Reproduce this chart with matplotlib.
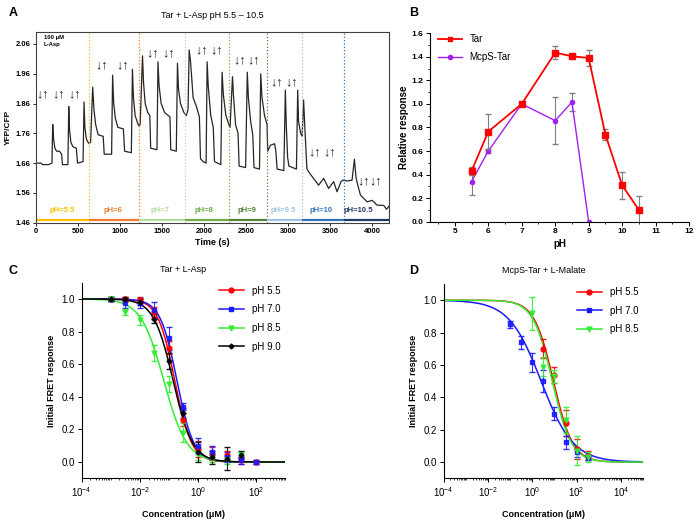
import matplotlib
matplotlib.use('agg')
import matplotlib.pyplot as plt
from matplotlib.lines import Line2D
from matplotlib.ticker import MultipleLocator, LogLocator, NullFormatter, FormatStrFormatter
import numpy as np

plt.rcParams['font.family'] = ['Liberation Sans', 'DejaVu Sans']
plt.rcParams['mathtext.default'] = 'regular'

# ---- panel A: raw FRET trace (time in s, YFP/CFP ratio)
TRACE_T = [0, 60, 80, 150, 190, 199, 210, 225, 245, 280, 305, 315, 380, 390, 400, 415, 440, 480,
           495, 560, 572, 582, 600, 630,
           650, 675, 690, 710, 740, 800, 812, 900, 912, 925, 945, 975, 1040, 1055, 1135, 1148,
           1160, 1180, 1215,
           1225, 1240, 1268, 1280, 1300, 1330, 1355, 1365, 1440, 1452, 1465, 1490, 1530, 1595,
           1604, 1670, 1684, 1696, 1720, 1760,
           1790, 1810, 1823, 1840, 1870, 1910, 1945, 1958, 1990, 2025, 2037, 2050, 2080, 2110,
           2125, 2200, 2215, 2230, 2260, 2295,
           2310, 2339, 2350, 2375, 2405, 2418, 2495, 2515, 2528, 2555, 2580, 2595, 2660, 2675,
           2690, 2720, 2750,
           2758, 2790, 2840, 2855, 2870, 2950, 2968, 2980, 2995, 3010, 3100, 3115, 3125, 3150, 3168,
           3185, 3200, 3225, 3260, 3300, 3364, 3424, 3483, 3543, 3583, 3631, 3654,
           3700, 3762, 3790, 3810, 3830, 3862, 3941, 4001, 4060, 4140, 4172, 4200]
TRACE_Y = [1.66, 1.66, 1.655, 1.655, 1.66, 1.79, 1.74, 1.71, 1.70, 1.70, 1.69, 1.655, 1.655, 1.85, 1.77, 1.73, 1.715, 1.71,
           1.66, 1.665, 1.865, 1.78, 1.74, 1.725,
           1.73, 1.915, 1.84, 1.79, 1.755, 1.75, 1.69, 1.69, 1.955, 1.86, 1.81, 1.78, 1.775, 1.70, 1.695, 1.975,
           1.88, 1.82, 1.79,
           1.785, 1.79, 2.02, 1.93, 1.86, 1.83, 1.82, 1.71, 1.705, 2.0, 1.92, 1.86, 1.83, 1.815,
           1.705, 1.70, 1.995, 1.91, 1.86, 1.83,
           1.82, 1.84, 2.04, 2.0, 1.88, 1.85, 1.815, 1.675, 1.665, 1.66, 2.0, 1.92, 1.82, 1.78,
           1.665, 1.655, 1.965, 1.89, 1.82, 1.79,
           1.78, 1.95, 1.89, 1.79, 1.76, 1.65, 1.645, 1.965, 1.88, 1.80, 1.755, 1.645, 1.64, 1.96,
           1.88, 1.82, 1.79,
           1.70, 1.72, 1.725, 1.70, 1.64, 1.635, 1.905, 1.78, 1.68, 1.65, 1.64, 1.905, 1.80, 1.76, 1.75,
           1.872, 1.78, 1.64, 1.625, 1.61, 1.586, 1.609, 1.575, 1.598, 1.564, 1.598, 1.603,
           1.60, 1.603, 1.673, 1.61, 1.586, 1.553, 1.530, 1.535, 1.519, 1.518, 1.505, 1.515]

PH_EDGES = [0, 635, 1224, 1776, 2297, 2753, 3170, 3663, 4200]
PH_NAMES = ['pH=5.5', 'pH=6', 'pH=7', 'pH=8', 'pH=9', 'pH=9.5', 'pH=10', 'pH=10.5']
PH_COLORS = ['#FFC000', '#ED7D31', '#B4DC9C', '#70AD47', '#548235', '#9DC3E6', '#2E75B6', '#203864']
PH_LABEL_T = [306, 921, 1477, 2002, 2510, 2939, 3391, 3837]
ARROW_T = [79, 266, 465, 782, 1032, 1386, 1577, 1966, 2145, 2419, 2589, 2859, 3038, 3312, 3495, 3900, 4039]
ARROW_Y = [1.89, 1.89, 1.89, 1.99, 1.99, 2.03, 2.03, 2.04, 2.04, 2.005, 2.005, 1.93, 1.93, 1.695, 1.695, 1.60, 1.60]

# ---- panel B: relative response vs pH
B_PH_TAR = [5.5, 6, 7, 8, 8.5, 9, 9.5, 10, 10.5]
B_TAR = [0.43, 0.765, 1.0, 1.435, 1.405, 1.39, 0.74, 0.31, 0.10]
B_TAR_ERR = [0.035, 0.15, 0.0, 0.057, 0.01, 0.07, 0.047, 0.116, 0.115]
B_PH_MCPS = [5.5, 6, 7, 8, 8.5, 9]
B_MCPS = [0.34, 0.60, 1.0, 0.858, 1.015, 0.0]
B_MCPS_ERR = [0.11, 0.02, 0.0, 0.2, 0.075, 0.0]

# ---- panel C: Tar + L-Asp dose response (conc in uM)
C_CONC = [0.001, 0.003, 0.01, 0.03, 0.1, 0.3, 1, 3, 10, 30, 100]
C_LABELS = ['pH 5.5', 'pH 7.0', 'pH 8.5', 'pH 9.0']
C_COLORS = ['#FF0000', '#1A1AFF', '#33EE33', '#000000']
C_MARKERS = ['o', 's', 'v', 'D']
C_VALS = [[1.0, 1.0, 0.995, 0.92, 0.70, 0.26, 0.08, 0.05, 0.04, 0.01, 0.0],
          [1.0, 0.975, 0.975, 0.93, 0.76, 0.34, 0.10, 0.06, 0.03, 0.01, 0.0],
          [1.0, 0.92, 0.87, 0.67, 0.48, 0.18, 0.05, 0.02, 0.01, 0.04],
          [1.0, 1.0, 0.98, 0.88, 0.62, 0.30, 0.06, 0.03, 0.02, 0.045]]
C_ERRS = [[0.01, 0.01, 0.02, 0.03, 0.04, 0.04, 0.05, 0.04, 0.03, 0.02, 0.01],
          [0.01, 0.03, 0.03, 0.05, 0.07, 0.02, 0.05, 0.04, 0.03, 0.02, 0.01],
          [0.01, 0.02, 0.03, 0.05, 0.05, 0.06, 0.04, 0.02, 0.02, 0.02],
          [0.01, 0.01, 0.02, 0.03, 0.05, 0.03, 0.06, 0.04, 0.07, 0.02]]
C_IC50 = [0.16, 0.19, 0.067, 0.14]
C_HILL = [1.5, 1.5, 1.1, 1.3]

# ---- panel D: McpS-Tar + L-Malate dose response
D_LABELS = ['pH 5.5', 'pH 7.0', 'pH 8.5']
D_COLORS = ['#FF0000', '#1A1AFF', '#33EE33']
D_MARKERS = ['o', 's', 'v']
D_CONC = [[3.16, 10, 31.6, 100, 316],
          [0.1, 0.316, 1, 3.16, 10, 31.6, 100, 316],
          [1, 3.16, 10, 31.6, 100, 316]]
D_VALS = [[0.70, 0.537, 0.24, 0.08, 0.04],
          [0.85, 0.74, 0.617, 0.50, 0.30, 0.123, 0.06, 0.033],
          [0.918, 0.59, 0.53, 0.26, 0.07, 0.03]]
D_ERRS = [[0.06, 0.05, 0.08, 0.06, 0.03],
          [0.02, 0.04, 0.06, 0.07, 0.04, 0.04, 0.03, 0.02],
          [0.10, 0.06, 0.04, 0.08, 0.09, 0.03]]
D_IC50 = [9.0, 2.5, 8.0]
D_HILL = [1.0, 0.6, 1.0]


def hill(x, ic50, h):
    return 1.0 / (1.0 + (x / ic50) ** h)


fig = plt.figure(figsize=(6.96, 5.2), dpi=100)

# ================= A
axA = fig.add_axes([0.0517, 0.5717, 0.507, 0.3667])
axA.plot(TRACE_T, TRACE_Y, color='#262626', lw=0.9)
for i in range(len(PH_NAMES)):
    t0, t1 = PH_EDGES[i], PH_EDGES[i + 1]
    c = PH_COLORS[i]
    axA.plot([t0, t1], [1.468, 1.468], color=c, lw=1.6, solid_capstyle='butt')
    if i < len(PH_NAMES) - 1:
        axA.axvline(t1, color=c, lw=0.9, ls=':')
    axA.text(PH_LABEL_T[i], 1.50, PH_NAMES[i], color=c, fontsize=5.5, fontweight='bold',
             ha='center', va='center')
# addition / removal arrows
for t, y in zip(ARROW_T, ARROW_Y):
    axA.text(t, y, '↓↑', fontsize=9, ha='center', va='center', color='#222222')
axA.text(95, 2.07, '100 μM\nL-Asp', fontsize=4.2, fontweight='bold', va='center', ha='left',
         linespacing=1.5)
axA.set_xlim(0, 4200)
axA.set_ylim(1.46, 2.10)
axA.set_yticks(np.arange(1.46, 2.07, 0.1))
axA.yaxis.set_major_formatter(FormatStrFormatter('%.2f'))
axA.set_xticks(np.arange(0, 4001, 500))
axA.tick_params(labelsize=5.5, length=2, width=0.6, pad=2)
for lab in axA.get_xticklabels() + axA.get_yticklabels():
    lab.set_fontweight('bold')
for s in axA.spines.values():
    s.set_color('#404040')
    s.set_linewidth(0.8)
axA.set_xlabel('Time (s)', fontsize=6.5, fontweight='bold', labelpad=2)
axA.set_ylabel('YFP/CFP', fontsize=6, fontweight='bold', labelpad=3)
axA.set_title('Tar + L-Asp pH 5.5 \u2013 10.5', fontsize=6.5, pad=10)

# ================= B
axB = fig.add_axes([0.6174, 0.5737, 0.3726, 0.3623])
axB.errorbar(B_PH_TAR, B_TAR, yerr=B_TAR_ERR, color='#FF0000', marker='s', ms=4, lw=1.3,
             ecolor='#808080', elinewidth=0.8, capsize=2, zorder=3)
axB.errorbar(B_PH_MCPS, B_MCPS, yerr=B_MCPS_ERR, color='#A020F0', marker='o', ms=3, lw=1.0,
             ecolor='#808080', elinewidth=0.8, capsize=2, zorder=2)
axB.set_xlim(4.25, 12)
axB.set_ylim(0, 1.6)
axB.set_xticks(range(5, 13))
axB.set_yticks(np.arange(0, 1.61, 0.2))
axB.yaxis.set_major_formatter(FormatStrFormatter('%.1f'))
axB.yaxis.set_minor_locator(MultipleLocator(0.1))
axB.xaxis.set_minor_locator(MultipleLocator(0.5))
axB.spines['top'].set_visible(False)
axB.spines['right'].set_visible(False)
axB.tick_params(labelsize=6, length=3, width=0.7, pad=1.5)
axB.tick_params(which='minor', length=1.5, width=0.6)
for lab in axB.get_xticklabels() + axB.get_yticklabels():
    lab.set_fontweight('bold')
axB.set_xlabel('pH', fontsize=7, fontweight='bold', labelpad=3)
axB.set_ylabel('Relative response', fontsize=7, fontweight='bold', labelpad=2)
b_handles = [Line2D([], [], color='#FF0000', marker='s', ms=3.5, lw=1.3),
             Line2D([], [], color='#A020F0', marker='o', ms=3, lw=1.0)]
axB.legend(b_handles, ['Tar', 'McpS-Tar'], loc='upper left', frameon=False, fontsize=7,
           handlelength=2.4, bbox_to_anchor=(0.0, 1.04), labelspacing=0.8)


def dose_panel(ax, concs, vals, errs, ic50s, hills, colors, markers, labels, xmax):
    xs = np.logspace(-4, np.log10(xmax), 400)
    for k in range(len(labels)):
        ax.plot(xs, hill(xs, ic50s[k], hills[k]), color=colors[k], lw=1.1, zorder=2)
    handles = []
    for k in range(len(labels)):
        ms = 3.5 if markers[k] != 'D' else 2.5
        ax.errorbar(concs[k], vals[k], yerr=errs[k], fmt=markers[k], color=colors[k],
                    ms=ms, ecolor=colors[k], elinewidth=0.8,
                    capsize=2, alpha=0.9, zorder=3)
        handles.append(Line2D([], [], color=colors[k], marker=markers[k], ms=ms, lw=1.1))
    ax.set_xscale('log')
    ax.set_xlim(1e-4, xmax)
    ax.set_ylim(-0.1, 1.1)
    ax.set_yticks(np.arange(0, 1.01, 0.2))
    ax.yaxis.set_major_formatter(FormatStrFormatter('%.1f'))
    ax.xaxis.set_major_locator(LogLocator(base=100, numticks=10))
    ax.xaxis.set_minor_locator(LogLocator(base=10, subs=np.arange(1, 10), numticks=20))
    ax.xaxis.set_minor_formatter(NullFormatter())
    ax.spines['top'].set_visible(False)
    ax.spines['right'].set_visible(False)
    ax.tick_params(labelsize=7, length=3, width=0.7, pad=2)
    ax.tick_params(which='minor', length=1.5, width=0.5)
    ax.set_xlabel('Concentration (μM)', fontsize=6.5, fontweight='bold', labelpad=8)
    ax.set_ylabel('Initial FRET response', fontsize=6.5, fontweight='bold', labelpad=4)
    ax.legend(handles, labels, loc='upper right', frameon=False, fontsize=7, handlelength=2.6,
              bbox_to_anchor=(1.02, 1.03), labelspacing=0.9)


# ================= C
axC = fig.add_axes([0.1174, 0.0802, 0.2921, 0.3762])
C_CONCS = [C_CONC[:len(v)] for v in C_VALS]
dose_panel(axC, C_CONCS, C_VALS, C_ERRS, C_IC50, C_HILL, C_COLORS, C_MARKERS, C_LABELS, 1e3)
axC.set_title('Tar + L-Asp', fontsize=6.5, pad=8)

# ================= D
axD = fig.add_axes([0.6375, 0.0802, 0.2864, 0.3736])
dose_panel(axD, D_CONC, D_VALS, D_ERRS, D_IC50, D_HILL, D_COLORS, D_MARKERS, D_LABELS, 1e5)
axD.set_title('McpS-Tar + L-Malate', fontsize=6.5, pad=8)

for letter, x, y in [('A', 0.012, 0.975), ('B', 0.588, 0.975), ('C', 0.012, 0.478), ('D', 0.588, 0.478)]:
    fig.text(x, y, letter, fontsize=9, fontweight='bold', va='center')

fig.savefig('out.png', dpi=100)
